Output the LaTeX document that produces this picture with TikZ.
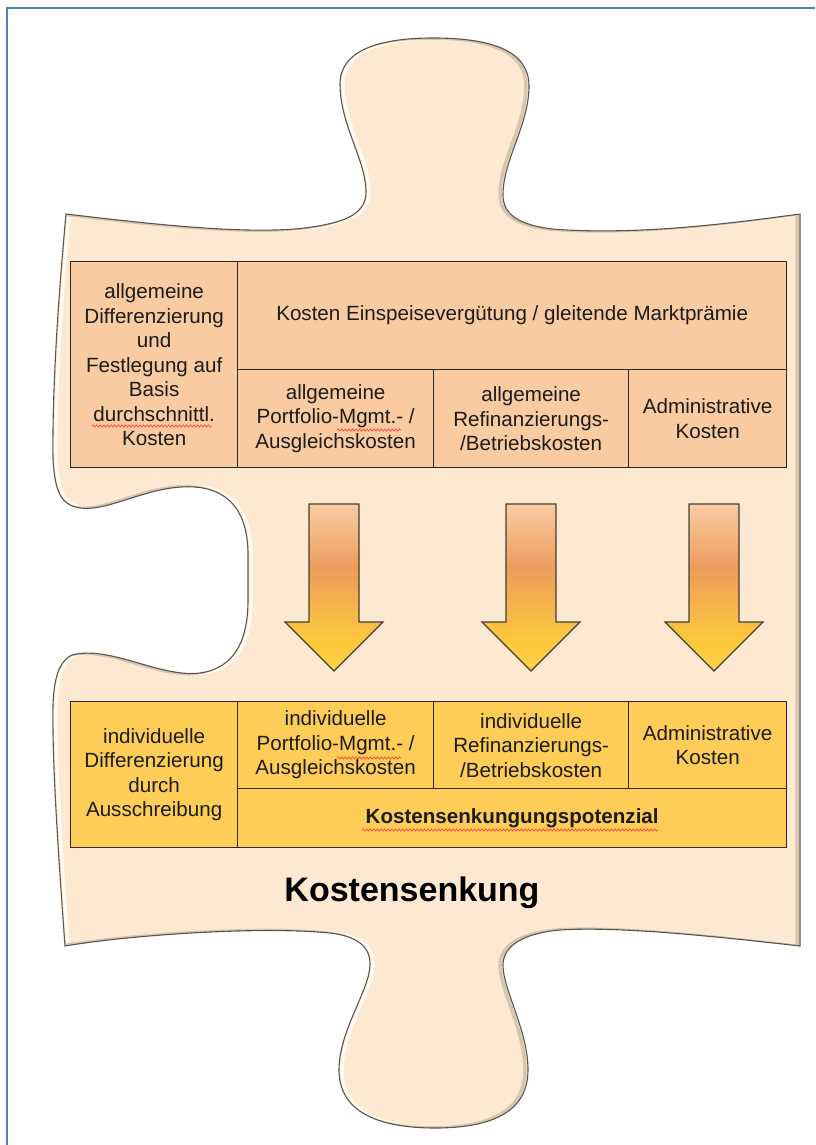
\documentclass[tikz,border=0pt]{standalone}
\usepackage{fontspec}
\setmainfont{Liberation Sans}
\usetikzlibrary{decorations.pathmorphing}

\definecolor{frameblue}{RGB}{79,129,189}
\definecolor{piecefill}{RGB}{253,232,210}
\definecolor{pieceline}{RGB}{92,86,76}
\definecolor{piecehi}{RGB}{255,251,240}
\definecolor{pieceshade}{RGB}{214,198,176}
\definecolor{upperfill}{RGB}{249,203,160}
\definecolor{lowerfill}{RGB}{254,205,87}
\definecolor{gridline}{RGB}{45,40,35}
\definecolor{txt}{RGB}{28,28,28}
\definecolor{arrowline}{RGB}{70,62,50}
\definecolor{arA}{RGB}{248,203,162}
\definecolor{arB}{RGB}{243,182,128}
\definecolor{arC}{RGB}{236,155,92}
\definecolor{arD}{RGB}{245,176,76}
\definecolor{arE}{RGB}{253,201,60}
\definecolor{arF}{RGB}{252,208,72}

% vertical gradient of the down arrows (25bp = tip, 75bp = top)
\pgfdeclareverticalshading{arrowshade}{100bp}{color(0bp)=(arF); color(25bp)=(arF);
  color(34bp)=(arE); color(46bp)=(arD); color(56bp)=(arC); color(66bp)=(arB);
  color(75bp)=(arA); color(100bp)=(arA)}

% outline of the puzzle piece, in pixel units (y grows downwards)
\def\piecepath{(66,214) .. controls (150,224) and (255,236) .. (312,227)
  .. controls (345,222) and (366,214) .. (366,192)
  .. controls (366,160) and (340,125) .. (340,84)
  .. controls (340,50) and (380,38) .. (433,38)
  .. controls (490,38) and (529,50) .. (529,86)
  .. controls (529,125) and (503,160) .. (503,195)
  .. controls (503,215) and (520,225) .. (552,229)
  .. controls (640,236) and (740,222) .. (800,214)
  -- (800,946)
  .. controls (720,937) and (620,926) .. (560,930)
  .. controls (525,933) and (503,945) .. (503,965)
  .. controls (503,990) and (528,1030) .. (528,1070)
  .. controls (528,1110) and (495,1128) .. (435,1128)
  .. controls (375,1128) and (339,1110) .. (339,1070)
  .. controls (339,1030) and (370,990) .. (370,964)
  .. controls (370,945) and (355,936) .. (330,933)
  .. controls (260,926) and (130,935) .. (65,946)
  .. controls (58,850) and (52,760) .. (53,705)
  .. controls (54,680) and (58,662) .. (72,655)
  .. controls (110,645) and (160,678) .. (200,673)
  .. controls (235,668) and (248,640) .. (248,600)
  -- (248,555)
  .. controls (248,515) and (232,490) .. (195,487)
  .. controls (150,484) and (110,512) .. (80,508)
  .. controls (60,505) and (55,490) .. (53,460)
  .. controls (52,380) and (60,280) .. (66,214) -- cycle}

\tikzset{
  cell/.style={draw=gridline, line width=1.3, inner sep=0pt, align=center,
    text=txt, font=\fontsize{20.6}{24.5}\selectfont, anchor=north west},
  upcell/.style={cell, fill=upperfill},
  locell/.style={cell, fill=lowerfill},
  spell/.style={draw=red!75!white, line width=0.7, decorate,
    decoration={snake, amplitude=1.1pt, segment length=3.6pt}},
  downarrow/.style={shading=arrowshade, draw=arrowline, line width=1.2},
}

\begin{document}
\begin{tikzpicture}[x=1pt, y=-1pt]
\useasboundingbox (0,0) rectangle (815,1145);
\fill[white] (0,0) rectangle (815,1145);

% frame
\draw[frameblue, line width=2] (6.5,1145) -- (6.5,8) -- (815,8);

% puzzle piece with a soft bevel
\fill[piecefill] \piecepath;
\begin{scope}
  \clip \piecepath;
  \draw[piecehi, line width=3.5, xshift=3pt] \piecepath;
  \draw[pieceshade, line width=3.5, xshift=-3pt] \piecepath;
\end{scope}
\draw[pieceline, line width=1.1] \piecepath;

% upper table
\node[upcell, minimum width=167, minimum height=206] (u1) at (70,261)
  {allgemeine\\Differenzierung\\und\\Festlegung auf\\Basis\\durchschnittl.\\Kosten};
\node[upcell, minimum width=549, minimum height=108] (u0) at (237,261)
  {Kosten Einspeisevergütung / gleitende Marktprämie};
\node[upcell, minimum width=196, minimum height=98] (u2) at (237,369)
  {allgemeine\\Portfolio-Mgmt.- /\\Ausgleichskosten};
\node[upcell, minimum width=195, minimum height=98] (u3) at (433,369)
  {allgemeine\\Refinanzierungs-\\/Betriebskosten};
\node[upcell, minimum width=158, minimum height=98] (u4) at (628,369)
  {Administrative\\Kosten};

% arrows
\foreach \ax in {334,531,714}{
  \shadedraw[downarrow] ({\ax-25},504) -- ({\ax+25},504) -- ({\ax+25},622)
    -- ({\ax+49},622) -- (\ax,671) -- ({\ax-49},622) -- ({\ax-25},622) -- cycle;
}

% lower table
\node[locell, minimum width=167, minimum height=146] (l1) at (70,701)
  {individuelle\\Differenzierung\\durch\\Ausschreibung};
\node[locell, minimum width=196, minimum height=87] (l2) at (237,701)
  {individuelle\\Portfolio-Mgmt.- /\\Ausgleichskosten};
\node[locell, minimum width=195, minimum height=87] (l3) at (433,701)
  {individuelle\\Refinanzierungs-\\/Betriebskosten};
\node[locell, minimum width=158, minimum height=87] (l4) at (628,701)
  {Administrative\\Kosten};
\node[locell, minimum width=549, minimum height=59,
  font=\fontsize{20.6}{24.5}\selectfont\bfseries] (l5) at (237,788)
  {Kostensenkungungspotenzial};

% spell-check marks
\draw[spell] (92,426) -- (212,426);
\draw[spell] (337,430) -- (401,430);
\draw[spell] (337,758) -- (401,758);
\draw[spell] (362,830) -- (658,830);

% title
\node[font=\fontsize{34}{40}\selectfont\bfseries, text=black, anchor=base]
  (title) at (412,901) {Kostensenkung};
\end{tikzpicture}
\end{document}
